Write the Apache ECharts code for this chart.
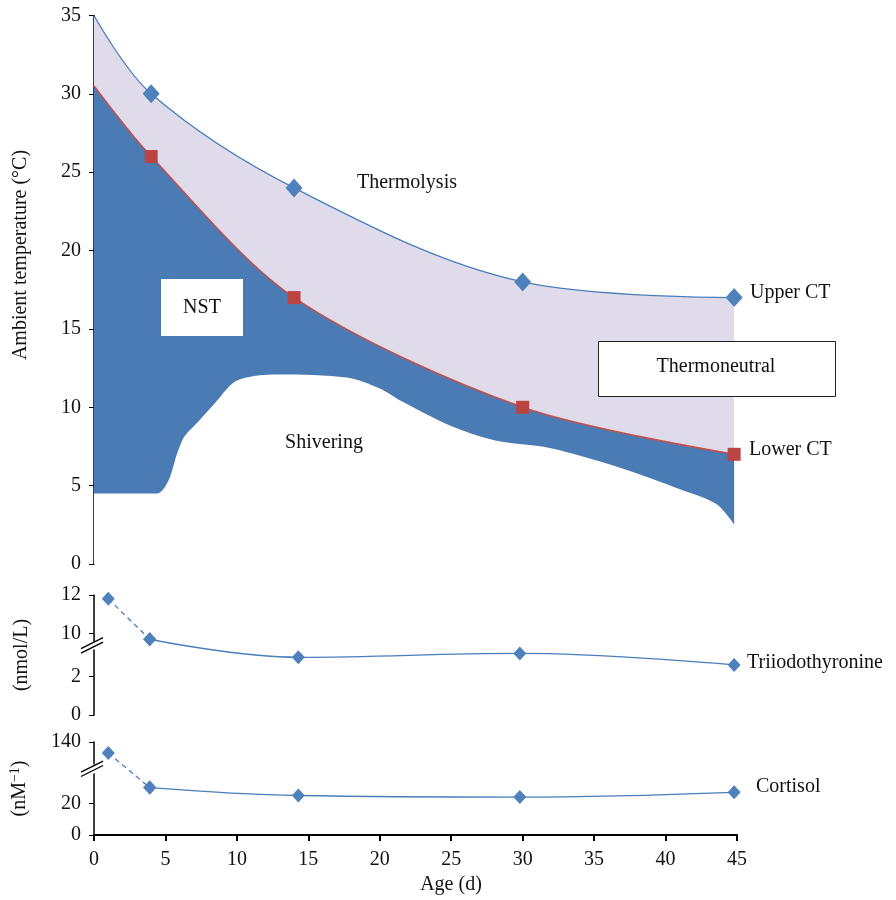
<!DOCTYPE html>
<html><head><meta charset="utf-8">
<script src="https://cdn.jsdelivr.net/npm/echarts@6/dist/echarts.min.js"></script>
<style>html,body{margin:0;padding:0;background:#fff}#c{width:896px;height:900px}</style>
</head><body><div id="c"></div>
<script>
// ---- data ----
const ageCT = [0, 4, 14, 30, 44.8];
const upperCT = [35, 30, 24, 18, 17];
const lowerCT = [30.5, 26, 17, 10, 7];
const shiverAge = [0, 4.4, 5.2, 5.8, 6.3, 7.0, 8.4, 9.8, 11.2, 13, 17.7, 20, 21.5, 25, 28, 31.9, 36.6, 41.2, 43.6, 44.9];
const shiverTemp = [4.5, 4.5, 5.3, 7.0, 8.1, 8.8, 10.2, 11.6, 12.0, 12.1, 11.9, 11.2, 10.4, 8.8, 7.9, 7.4, 6.2, 4.7, 3.8, 2.4];
const hormoneAge = [1, 3.9, 14.3, 29.8, 44.8];
const t3 = [11.8, 9.7, 3.0, 3.2, 2.6];
const cortisol = [133, 30, 25, 24, 27];
const t3Ticks = [0, 2, 10, 12];
const cortTicks = [0, 20, 140];
const t3Break = [3.4, 9.6];
const cortBreak = [39, 126];

const FONT = 'Liberation Serif';
const BLUE = '#4a7ebb';
const pts = (xs, ys) => xs.map((x, i) => [x, ys[i]]);

const chart = echarts.init(document.getElementById('c'), null, {renderer: 'canvas'});
const labelStyle = {color: '#111', fontFamily: FONT, fontSize: 20, margin: 13};
const yCommon = {
  type: 'value',
  axisLine: {show: true, lineStyle: {color: '#000', width: 1.5}},
  axisTick: {show: true, inside: false, length: 5, lineStyle: {color: '#000', width: 1}},
  splitLine: {show: false},
  axisLabel: labelStyle,
  nameLocation: 'middle', nameRotate: 90, nameGap: 60,
  nameTextStyle: {color: '#111', fontFamily: FONT, fontSize: 20}
};
const option = {
  animation: false,
  backgroundColor: '#fff',
  grid: [
    {left: 94, top: 15.5, width: 643, height: 548.5},
    {left: 94, top: 595, width: 643, height: 120},
    {left: 94, top: 742, width: 643, height: 93}
  ],
  xAxis: [
    {type: 'value', gridIndex: 0, min: 0, max: 45, interval: 5, show: false},
    {type: 'value', gridIndex: 1, min: 0, max: 45, interval: 5, show: false},
    {type: 'value', gridIndex: 2, min: 0, max: 45, interval: 5,
     axisLine: {show: true, onZero: false, lineStyle: {color: '#000', width: 2}},
     axisTick: {show: true, length: 6, lineStyle: {color: '#000', width: 2}},
     splitLine: {show: false},
     axisLabel: Object.assign({}, labelStyle, {margin: 15})}
  ],
  yAxis: [
    Object.assign({}, yCommon, {gridIndex: 0, min: 0, max: 35, interval: 5}),
    Object.assign({}, yCommon, {gridIndex: 1, min: 0, max: 12, interval: 2,
      name: '(nmol/L)', nameGap: 62,
      breaks: [{start: t3Break[0], end: t3Break[1], gap: '7%'}],
      breakArea: {show: false},
      axisTick: Object.assign({}, yCommon.axisTick, {customValues: t3Ticks}),
      axisLabel: Object.assign({}, labelStyle, {customValues: t3Ticks})}),
    Object.assign({}, yCommon, {gridIndex: 2, min: 0, max: 140, interval: 20,
      name: '(nM{sup|−1})', nameGap: 62,
      nameTextStyle: {color: '#111', fontFamily: FONT, fontSize: 20,
        rich: {sup: {fontFamily: FONT, fontSize: 14, verticalAlign: 'top', color: '#111', padding: [0, 0, 10, 0]}}},
      breaks: [{start: cortBreak[0], end: cortBreak[1], gap: '10%'}],
      breakArea: {show: false},
      axisTick: Object.assign({}, yCommon.axisTick, {customValues: cortTicks}),
      axisLabel: Object.assign({}, labelStyle, {customValues: cortTicks})})
  ],
  series: [
    {type: 'line', name: 'Upper CT', xAxisIndex: 0, yAxisIndex: 0, z: 2,
     data: pts(ageCT, upperCT), smooth: 0.35,
     symbol: 'diamond', symbolSize: v => (v[0] === 0 ? 0 : [17, 19]),
     lineStyle: {color: BLUE, width: 1.3}, itemStyle: {color: '#4f81bd'},
     areaStyle: {color: '#e0dbea', opacity: 1, origin: 'start'}},
    {type: 'line', name: 'Lower CT', xAxisIndex: 0, yAxisIndex: 0, z: 3,
     data: pts(ageCT, lowerCT), smooth: 0.3,
     symbol: 'rect', symbolSize: v => (v[0] === 0 ? 0 : 13),
     lineStyle: {color: '#c0504d', width: 1.6}, itemStyle: {color: '#b94441'},
     areaStyle: {color: '#4a7bb4', opacity: 1, origin: 'start'}},
    {type: 'line', name: 'Shivering', xAxisIndex: 0, yAxisIndex: 0, z: 4, silent: true,
     data: pts(shiverAge, shiverTemp), smooth: 0.3, symbol: 'none',
     lineStyle: {width: 0, opacity: 0},
     areaStyle: {color: '#ffffff', opacity: 1, origin: 'start'}},
    {type: 'line', xAxisIndex: 1, yAxisIndex: 1, z: 3,
     data: pts(hormoneAge.slice(0, 2), t3.slice(0, 2)),
     symbol: 'diamond', symbolSize: [13, 14],
     lineStyle: {color: BLUE, width: 1.3, type: [5, 4]}, itemStyle: {color: '#4f81bd'}},
    {type: 'line', name: 'Triiodothyronine', xAxisIndex: 1, yAxisIndex: 1, z: 3,
     data: pts(hormoneAge.slice(1), t3.slice(1)), smooth: 0.4,
     symbol: 'diamond', symbolSize: [13, 14],
     lineStyle: {color: BLUE, width: 1.3}, itemStyle: {color: '#4f81bd'}},
    {type: 'line', xAxisIndex: 2, yAxisIndex: 2, z: 3,
     data: pts(hormoneAge.slice(0, 2), cortisol.slice(0, 2)),
     symbol: 'diamond', symbolSize: [13, 14],
     lineStyle: {color: BLUE, width: 1.3, type: [5, 4]}, itemStyle: {color: '#4f81bd'}},
    {type: 'line', name: 'Cortisol', xAxisIndex: 2, yAxisIndex: 2, z: 3,
     data: pts(hormoneAge.slice(1), cortisol.slice(1)), smooth: 0.4,
     symbol: 'diamond', symbolSize: [13, 14],
     lineStyle: {color: BLUE, width: 1.3}, itemStyle: {color: '#4f81bd'}}
  ]
};
chart.setOption(option);

const txt = (text, x, y, align, rot) => ({type: 'text', x: x, y: y, z: 100, rotation: rot || 0,
  style: {text: text, fill: '#111', font: '20px "' + FONT + '"', align: align || 'center', verticalAlign: 'middle'}});
const graphics = [
  txt('Ambient temperature (°C)', 21, 255, 'center', Math.PI / 2),
  txt('Age (d)', 451, 885),
  txt('Thermolysis', 407, 183),
  {type: 'rect', z: 99, shape: {x: 161, y: 279, width: 82, height: 57}, style: {fill: '#fff'}},
  txt('NST', 202, 308),
  txt('Shivering', 324, 443),
  {type: 'rect', z: 99, shape: {x: 598.5, y: 341.5, width: 237, height: 55}, style: {fill: '#fff', stroke: '#222', lineWidth: 1}},
  txt('Thermoneutral', 716, 367),
  txt('Upper CT', 750, 293, 'left'),
  txt('Lower CT', 749, 450, 'left'),
  txt('Triiodothyronine', 747, 663, 'left'),
  txt('Cortisol', 756, 787, 'left')
];
function breakMark(idx, br) {
  const a = chart.convertToPixel({xAxisIndex: idx, yAxisIndex: idx}, [0, br[0]]);
  const b = chart.convertToPixel({xAxisIndex: idx, yAxisIndex: idx}, [0, br[1]]);
  const cx = a[0] - 2, cy = (a[1] + b[1]) / 2;
  const dx = 11, dy = 5.5, h = 2.2;
  graphics.push({type: 'polygon', z: 101, shape: {points: [[cx - dx, cy + dy - h], [cx + dx, cy - dy - h], [cx + dx, cy - dy + h], [cx - dx, cy + dy + h]]}, style: {fill: '#fff'}});
  graphics.push({type: 'line', z: 102, shape: {x1: cx - dx, y1: cy + dy - h, x2: cx + dx, y2: cy - dy - h}, style: {stroke: '#000', lineWidth: 1.3}});
  graphics.push({type: 'line', z: 102, shape: {x1: cx - dx, y1: cy + dy + h, x2: cx + dx, y2: cy - dy + h}, style: {stroke: '#000', lineWidth: 1.3}});
}
breakMark(1, t3Break);
breakMark(2, cortBreak);
chart.setOption({graphic: graphics});
</script>
</body></html>
